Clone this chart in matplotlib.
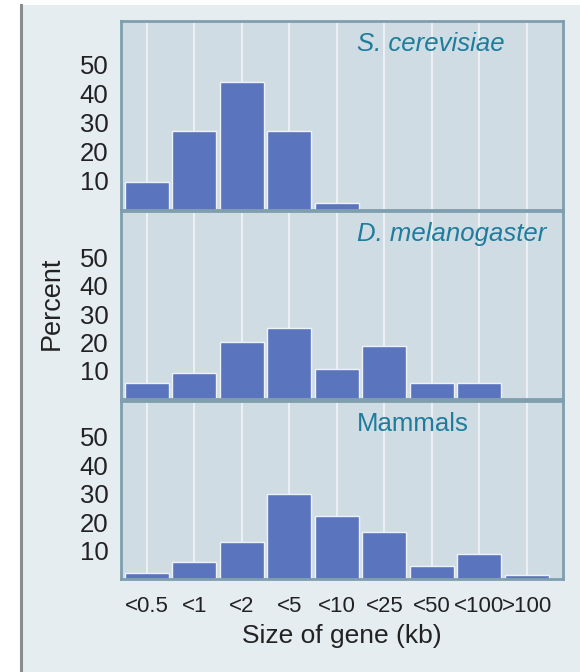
import numpy as np
import matplotlib
matplotlib.use("Agg")
import matplotlib.pyplot as plt
from matplotlib.lines import Line2D

plt.rcParams['font.family'] = ['Liberation Sans', 'DejaVu Sans']

# size classes of genes (kb)
categories = ["<0.5", "<1", "<2", "<5", "<10", "<25", "<50", "<100", ">100"]

# percent of genes in each class
yeast = [9.5, 27, 44, 27, 2.5, 0, 0, 0, 0]
fly = [5.7, 9.3, 20, 25, 10.7, 18.6, 5.7, 5.7, 0]
mammals = [2.1, 6, 13, 30, 22, 16.5, 4.6, 8.8, 1.4]

names = ["S. cerevisiae", "D. melanogaster", "Mammals"]
styles = ["italic", "italic", "normal"]
yticks = [10, 20, 30, 40, 50]

W, H = 580, 672
fig = plt.figure(figsize=(W / 100, H / 100), dpi=100)
fig.patch.set_facecolor("white")

# light grey card behind everything, with a dark rule on the left
fig.patches.append(plt.Rectangle((22 / W, 0), 1, 1 - 5 / H, transform=fig.transFigure,
                                 facecolor="#e6edf1", edgecolor="none", zorder=-10))
fig.lines.append(Line2D([21 / W, 21 / W], [0, 1 - 5 / H], transform=fig.transFigure,
                        color="#8a8c8e", lw=2.2))

bar_col = "#5a74be"
panel_bg = "#cfdce4"
border = "#7f9eae"
label_col = "#1f7c9c"
txt = "#222222"

left, right = 121, 563
# (top px, bottom px, ymax) of each panel
panels = [(21, 210, 65.0), (211, 399, 66.5), (401, 579, 62.5)]
series = [yeast, fly, mammals]
x = np.arange(len(categories))

for i, (top, bot, ymax) in enumerate(panels):
    ax = fig.add_axes([left / W, 1 - bot / H, (right - left) / W, (bot - top) / H])
    ax.set_facecolor(panel_bg)
    ax.set_xlim(-0.54, 8.76)
    ax.set_ylim(0, ymax)
    for g in x:
        ax.axvline(g, color="white", lw=1.5, alpha=0.6, zorder=0)
    ax.bar(x, series[i], width=0.92, color=bar_col, edgecolor="#eef2f6",
           linewidth=1.0, zorder=2)
    for s in ax.spines.values():
        s.set_color(border)
        s.set_linewidth(2)
    ax.set_yticks(yticks)
    ax.set_yticklabels([str(t) for t in yticks], fontsize=18.5, color=txt)
    ax.tick_params(axis="y", length=0, pad=9)
    ax.annotate(names[i], xy=(357 / W, 1 - (top + 23) / H), xycoords="figure fraction",
                ha="left", va="center", fontsize=18.5, style=styles[i], color=label_col)
    if i < 2:
        ax.set_xticks([])
    else:
        ax.set_xticks(x)
        ax.set_xticklabels(categories, fontsize=16, color=txt)
        ax.tick_params(axis="x", length=0, pad=12)

fig.text(52 / W, 1 - 303 / H, "Percent", rotation=90, ha="center", va="center",
         fontsize=19.5, color=txt)
fig.text(342 / W, 1 - 636 / H, "Size of gene (kb)", ha="center", va="center",
         fontsize=19, color=txt)

fig.savefig("out.png", dpi=100, facecolor=fig.get_facecolor())
